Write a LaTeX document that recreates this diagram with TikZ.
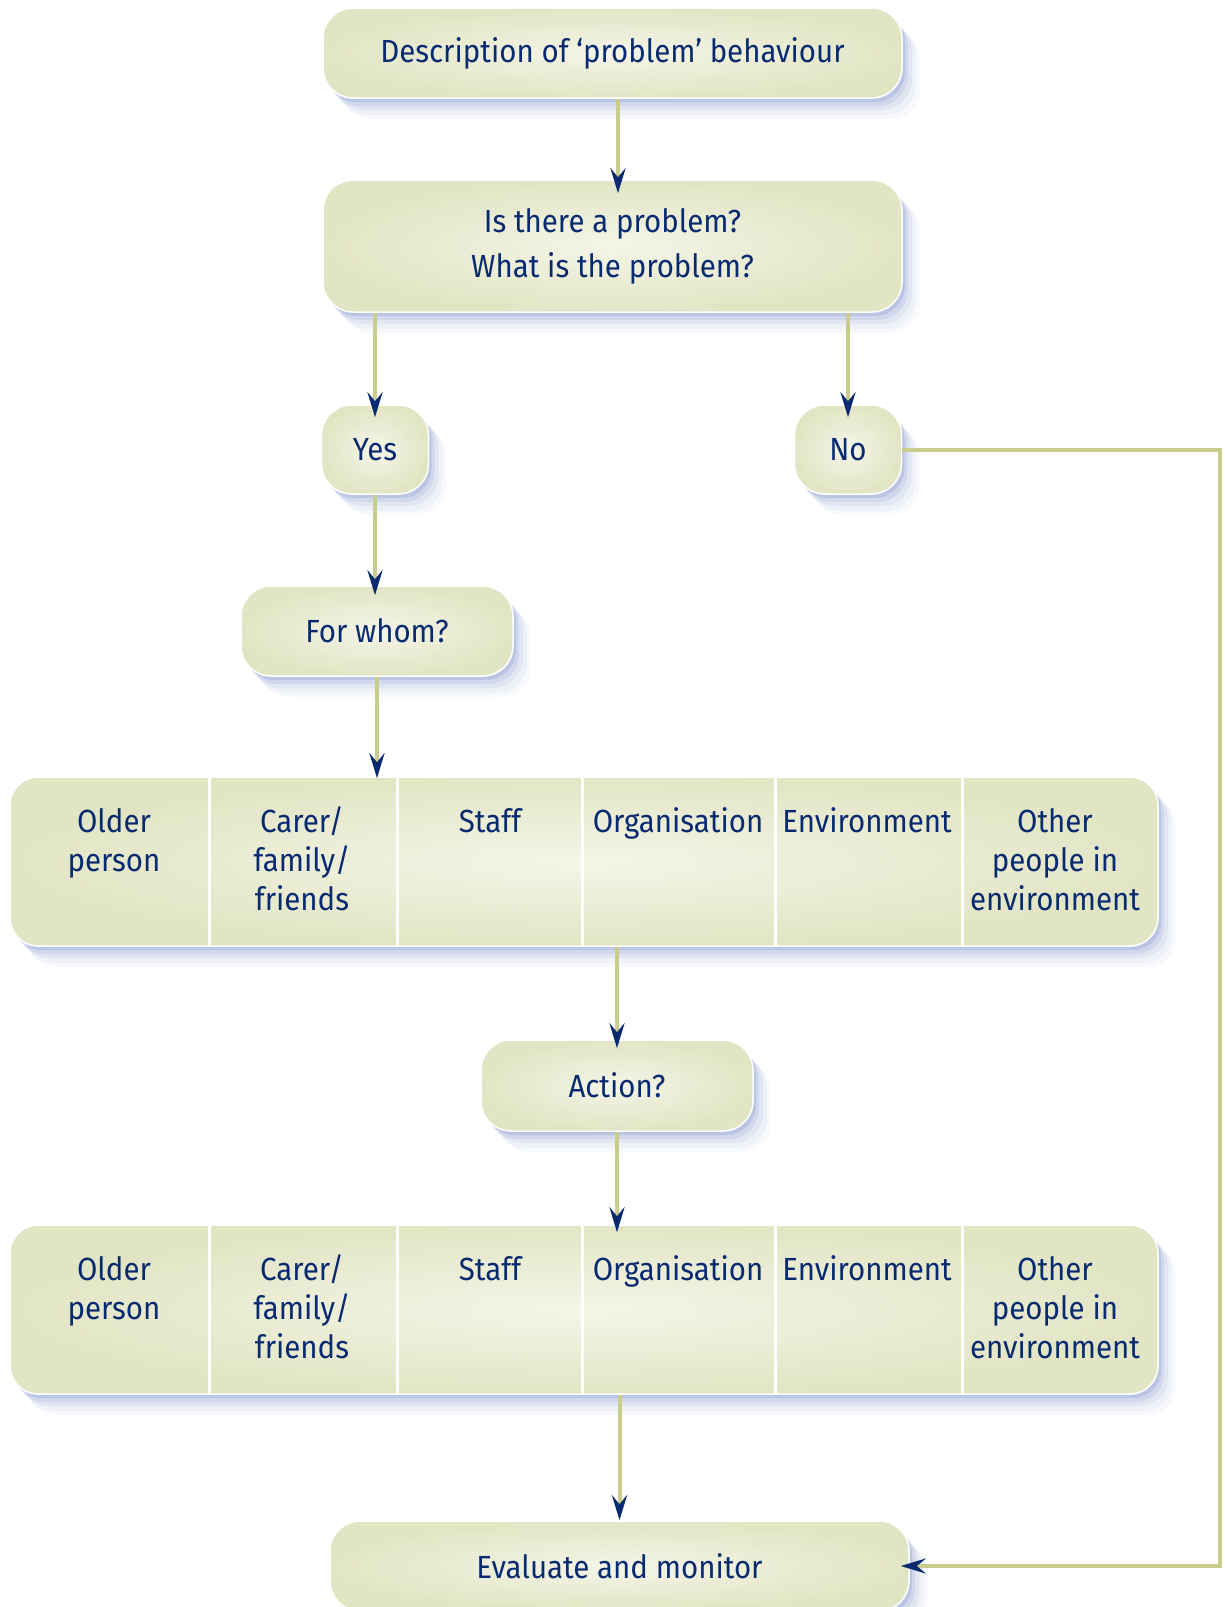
\documentclass[tikz,border=0pt]{standalone}
\usepackage{fontspec}
\setmainfont[FakeStretch=0.92]{Fira Sans}
\usetikzlibrary{arrows.meta,shadows}
\definecolor{navy}{RGB}{8,42,112}
\definecolor{boxout}{RGB}{226,229,196}
\definecolor{boxin}{RGB}{244,245,232}
\definecolor{connc}{RGB}{200,205,140}
\definecolor{shad}{RGB}{115,135,198}
\newcommand{\cstrut}{\rule{0pt}{30pt}}
\begin{document}
\begin{tikzpicture}[x=1pt,y=-1pt,
  softshadow/.style={
    drop shadow={fill=shad, opacity=.05, shadow xshift=18pt, shadow yshift=-21pt},
    drop shadow={fill=shad, opacity=.07, shadow xshift=14pt, shadow yshift=-17pt},
    drop shadow={fill=shad, opacity=.10, shadow xshift=10pt, shadow yshift=-12pt},
    drop shadow={fill=shad, opacity=.15, shadow xshift=6pt, shadow yshift=-8pt},
    drop shadow={fill=shad, opacity=.25, shadow xshift=3pt, shadow yshift=-4pt}},
  fbox/.style={rounded corners=30pt, draw=white, line width=1.5pt, inner color=boxin, outer color=boxout,
    text=navy, font=\fontsize{32}{45}\selectfont, align=center, inner sep=0pt, softshadow},
  rowbox/.style={fbox, rounded corners=28pt, minimum width=1148pt, minimum height=169pt},
  cell/.style={text=navy, font=\fontsize{32}{39}\selectfont, align=center, anchor=north, inner sep=0pt},
  divider/.style={draw=white, line width=3pt},
  conn/.style={draw=connc, line width=4pt, -{Stealth[length=25pt,width=15pt,inset=9pt,color=navy]}}]
\useasboundingbox (0,0) rectangle (1224,1607);

\node[fbox, minimum width=579pt, minimum height=90pt] (top) at (612.5,53) {Description of ‘problem’ behaviour};
\node[fbox, minimum width=579pt, minimum height=132pt] (prob) at (612.5,246) {Is there a problem?\\What is the problem?};
\node[fbox, minimum width=107pt, minimum height=89pt] (yes) at (375,449.5) {Yes};
\node[fbox, minimum width=107pt, minimum height=89pt] (no) at (848,449.5) {No};
\node[fbox, minimum width=272pt, minimum height=90pt] (whom) at (377,631) {For whom?};
\node[rowbox] (row1) at (584,861.5) {};
\node[fbox, minimum width=272pt, minimum height=91pt] (action) at (617,1085.5) {Action?};
\node[rowbox] (row2) at (584,1309.5) {};
\node[fbox, minimum width=579pt, minimum height=90pt] (eval) at (619.5,1566) {Evaluate and monitor};

% row cells
\foreach \x in {209,397,582,775,962}{
  \draw[divider] (\x,0 |- row1.north) -- (\x,0 |- row1.south);
  \draw[divider] (\x,0 |- row2.north) -- (\x,0 |- row2.south);
}
\node[cell] (r1a) at (114,802) {\cstrut Older\\person};
\node[cell] (r1b) at (302,802) {\cstrut Carer/\\family/\\friends};
\node[cell] (r1c) at (490,802) {\cstrut Staff};
\node[cell] (r1d) at (678,802) {\cstrut Organisation};
\node[cell] (r1e) at (867,802) {\cstrut Environment};
\node[cell] (r1f) at (1055,802) {\cstrut Other\\people in\\environment};

\node[cell] (r2a) at (114,1250) {\cstrut Older\\person};
\node[cell] (r2b) at (302,1250) {\cstrut Carer/\\family/\\friends};
\node[cell] (r2c) at (490,1250) {\cstrut Staff};
\node[cell] (r2d) at (678,1250) {\cstrut Organisation};
\node[cell] (r2e) at (867,1250) {\cstrut Environment};
\node[cell] (r2f) at (1055,1250) {\cstrut Other\\people in\\environment};

% connectors
\draw[conn] ([xshift=5.5pt]top.south) -- ([xshift=5.5pt,yshift=-14pt]prob.north);
\draw[conn] (prob.south -| yes) -- ([yshift=-13pt]yes.north);
\draw[conn] (prob.south -| no) -- ([yshift=-13pt]no.north);
\draw[conn] (yes.south) -- ([yshift=-10pt]yes.south |- whom.north);
\draw[conn] (whom.south) -- ([yshift=-2pt]whom.south |- row1.north);
\draw[conn] (row1.south -| action) -- ([yshift=-9pt]action.north);
\draw[conn] (action.south) -- ([yshift=-8pt]action.south |- row2.north);
\draw[conn] (row2.south -| eval) -- (eval.north);
\coordinate (corner) at (1220,448);
\draw[conn] (no.east) -- (no.east -| corner) -- (corner |- eval.east) -- ([xshift=-9pt]eval.east);
\end{tikzpicture}
\end{document}
